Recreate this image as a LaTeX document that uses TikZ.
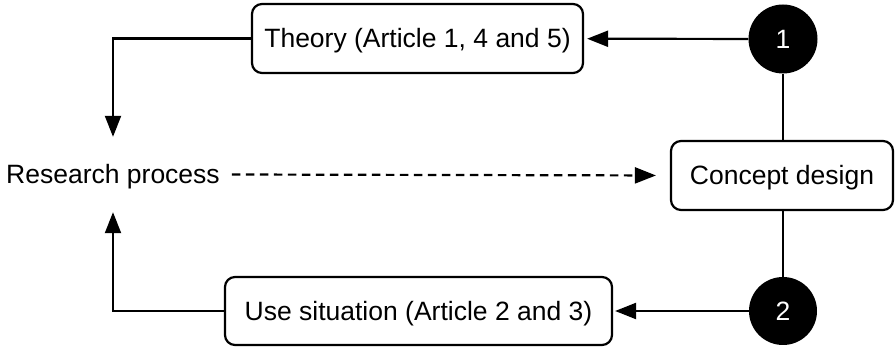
\documentclass[tikz,border=0pt]{standalone}
\usepackage{fontspec}
\setmainfont{Liberation Sans}
\usetikzlibrary{arrows.meta}
\begin{document}
\begin{tikzpicture}[x=1pt,y=-1pt,
  every node/.style={font=\fontsize{26.5}{30}\selectfont, text height=19pt, text depth=0pt, inner sep=0pt},
  roundbox/.style={draw, line width=2.2pt, rounded corners=10pt, minimum height=69pt},
  numdot/.style={circle, fill=black, text=white, minimum size=69pt},
  link/.style={line width=2.2pt},
  arr/.style={link, -{Triangle[length=21pt,width=16pt]}},
  dasharr/.style={arr, dash pattern=on 8.5pt off 5.5pt}
]
  \useasboundingbox (0,0) rectangle (895,347);

  % boxes and numbered markers
  \node[roundbox, minimum width=331pt] (theory) at (417.5,38.5) {Theory (Article 1, 4 and 5)};
  \node[numdot] (c1) at (783,39) {1};
  \node[minimum height=75pt, inner xsep=12pt] (research) at (113,174.5) {Research process};
  \node[roundbox, minimum width=222pt] (concept) at (782,175.5) {Concept design};
  \node[roundbox, minimum width=387pt, minimum height=68pt] (use) at (418.5,311) {Use situation (Article 2 and 3)};
  \node[numdot, minimum size=68pt] (c2) at (783,311) {2};

  % connectors
  \draw[arr, shorten >=3pt] (c1) -- (theory);
  \draw[arr, shorten >=2pt] (c2) -- (use);
  \draw[link] (c1) -- (c1 |- concept.north);
  \draw[link] (c2 |- concept.south) -- (c2);
  \draw[arr] (theory.west) -| (research.north);
  \draw[arr] (use.west) -| (research.south);
  \draw[dasharr, shorten >=14pt] (research.east) -- (concept.west);
\end{tikzpicture}
\end{document}
